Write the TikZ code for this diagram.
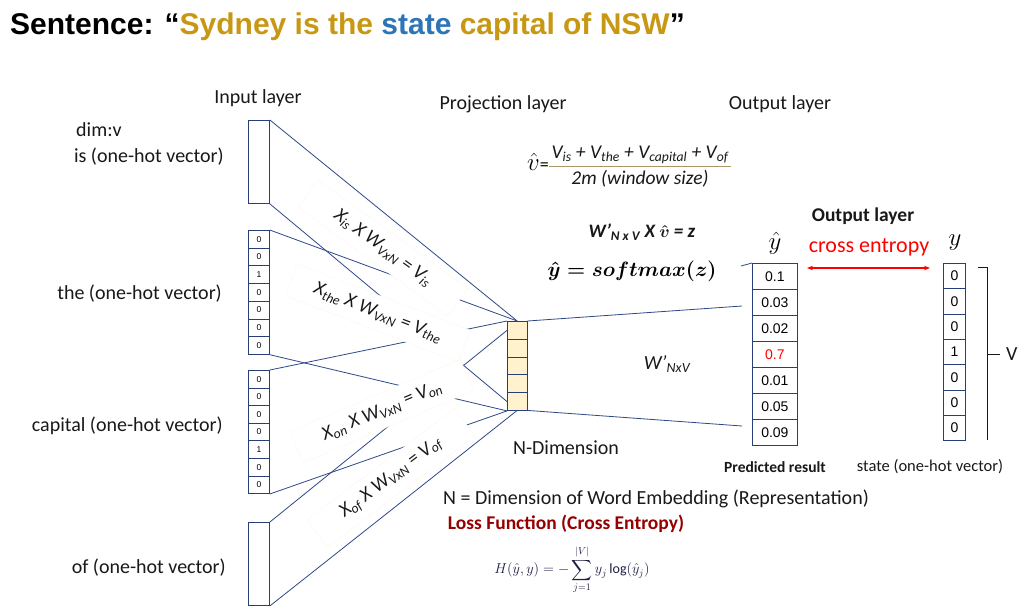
\documentclass[tikz,border=0pt]{standalone}
\usepackage{amsmath}
\usepackage{fontspec}
\setmainfont{Carlito}
\newfontfamily\arialf{Liberation Sans}
\usetikzlibrary{arrows.meta}
\definecolor{goldc}{RGB}{200,152,20}
\definecolor{stateblue}{RGB}{46,117,182}
\definecolor{linkc}{RGB}{47,72,135}
\definecolor{boxc}{RGB}{40,62,120}
\definecolor{projfill}{RGB}{255,242,204}
\definecolor{lblborder}{RGB}{250,236,208}
\definecolor{fracc}{RGB}{170,150,100}
\definecolor{lossred}{RGB}{150,0,0}
\definecolor{txt}{RGB}{25,25,25}
\begin{document}
\begin{tikzpicture}[x=1pt,y=-1pt,
  lnk/.style={draw=linkc, line width=0.8pt},
  bx/.style={draw=boxc, line width=0.9pt, inner sep=0pt},
  lbl/.style={font=\fontsize{20}{23}\selectfont, text=txt, inner sep=0pt},
  cellin/.style={draw=boxc, line width=0.8pt, minimum width=21pt, inner sep=0pt, font=\arialf\fontsize{8.5}{9}\selectfont},
  cellout/.style={draw=boxc, line width=0.8pt, inner sep=0pt, font=\arialf\fontsize{14}{15}\selectfont},
  projcell/.style={draw=boxc, line width=0.9pt, fill=projfill, minimum width=20pt, minimum height=17.8pt, inner sep=0pt},
  eqlbl/.style={fill=white, draw=lblborder, densely dotted, minimum width=185pt, minimum height=34pt, inner sep=2pt, font=\itshape\fontsize{19.5}{22}\selectfont, text=txt}
]
\useasboundingbox (0,0) rectangle (1027,614);
\fill[white] (0,0) rectangle (1027,614);

% title
\node[anchor=west, inner sep=0pt, font=\arialf\bfseries\fontsize{30}{34}\selectfont] (title) at (10,27)
  {Sentence: “\textcolor{goldc}{Sydney is the} \textcolor{stateblue}{state} \textcolor{goldc}{capital of NSW}”};

% headers
\node[lbl] (hin) at (258,98) {Input layer};
\node[lbl] (hproj) at (503,104) {Projection layer};
\node[lbl] (hout) at (780,104) {Output layer};

% left labels
\node[lbl, anchor=west] (dimv) at (76,130) {dim:v};
\node[lbl, anchor=east] (tis) at (224,157) {is (one-hot vector)};
\node[lbl, anchor=east] (tthe) at (222,294) {the (one-hot vector)};
\node[lbl, anchor=east] (tcap) at (223,426) {capital (one-hot vector)};
\node[lbl, anchor=east] (tof) at (226,568) {of (one-hot vector)};

% input boxes (geometry)
\node[bx, minimum width=21pt, minimum height=83pt, anchor=north west] (isbox) at (248,120) {};
\foreach \v [count=\i] in {0,0,1,0,0,0,0}
  \node[cellin, minimum height=17.7pt, anchor=north west] (the\i) at (248,{230+(\i-1)*17.7}) {\v};
\foreach \v [count=\i] in {0,0,0,0,1,0,0}
  \node[cellin, minimum height=17.6pt, anchor=north west] (cap\i) at (248,{370+(\i-1)*17.6}) {\v};
\node[bx, minimum width=21pt, minimum height=83pt, anchor=north west] (ofbox) at (248,522) {};

% projection layer
\node[minimum width=20pt, minimum height=89pt, inner sep=0pt, anchor=north west] (proj) at (507,321) {};
\foreach \i in {1,...,5}
  \node[projcell, anchor=north west] (p\i) at (507,{321+(\i-1)*17.8}) {};

% connectors input -> projection
\draw[lnk] (isbox.north east) -- (proj.north);
\draw[lnk] (isbox.south east) -- (p5.west);
\draw[lnk] (the1.north east) -- (proj.north);
\draw[lnk] (the7.south east) -- (p5.south west);
\draw[lnk] (cap1.north east) -- (p1.north west);
\draw[lnk] (cap7.south east) -- (p5.south west);
\draw[lnk] (ofbox.north east) -- (p1.west);
\draw[lnk] (ofbox.south east) -- (proj.south);

% rotated equation labels
\node[eqlbl, rotate=-36] (l1) at (383,248) {X\textsubscript{is} X W\textsubscript{VxN} = V\textsubscript{is}};
\node[eqlbl, rotate=-21] (l2) at (378,313) {X\textsubscript{the} X W\textsubscript{VxN} = V\textsubscript{the}};
\node[eqlbl, rotate=23] (l3) at (382,411) {X\textsubscript{on} X W\textsubscript{VxN} = V\textsubscript{on}};
\node[eqlbl, rotate=37] (l4) at (391,478) {X\textsubscript{of} X W\textsubscript{VxN} = V\textsubscript{of}};

% redraw boxes on top
\node[bx, minimum width=21pt, minimum height=83pt, anchor=north west] at (248,120) {};
\node[bx, minimum width=21pt, minimum height=83pt, anchor=north west] at (248,522) {};
\foreach \i in {1,...,5}
  \node[projcell, anchor=north west] at (507,{321+(\i-1)*17.8}) {};

% output layer yhat
\foreach \v [count=\i] in {0.1,0.03,0.02,{\textcolor{red}{0.7}},0.01,0.05,0.09}
  \node[cellout, minimum width=45pt, minimum height=26pt, anchor=north west] (yh\i) at (752,{263+(\i-1)*26}) {\v};
% target y
\foreach \v [count=\i] in {0,0,0,1,0,0,0}
  \node[cellout, minimum width=22pt, minimum height=25.3pt, anchor=north west] (yt\i) at (943,{263+(\i-1)*25.3}) {\v};

% projection -> output
\coordinate (ot) at (742,306);
\coordinate (ob) at (742,426);
\draw[lnk] (proj.north east) -- (ot);
\draw[lnk] (proj.south east) -- (ob);
\coordinate (tk1) at (741,266);
\draw[lnk] (tk1) -- (yh1.north west);

% brace
\coordinate (bt) at (978,267);
\coordinate (bb) at (987,440);
\coordinate (bm) at (987,354);
\draw[draw=txt, line width=0.9pt] (bt) -- (987,267) -- (bb);
\draw[draw=txt, line width=0.9pt] (bm) -- ++(13,0) coordinate (bv);
\node[lbl, anchor=west] (vlab) at (1006,354) {V};

% output-side labels
\node[font=\bfseries\fontsize{19.5}{22}\selectfont, text=txt, inner sep=0pt] (hout2) at (863,216) {Output layer};
\node[inner sep=0pt, font=\fontsize{24}{26}\selectfont] (yhatl) at (775,243) {$\hat{y}$};
\node[inner sep=0pt, font=\fontsize{24}{26}\selectfont] (yl) at (955,243) {$y$};
\node[inner sep=0pt, text=red, font=\fontsize{22}{25}\selectfont] (ce) at (869,247) {cross entropy};
\coordinate (ca) at (807,268);
\coordinate (cb) at (930,268);
\draw[red, line width=1.1pt, {Stealth[length=6pt]}-{Stealth[length=6pt]}] (ca) -- (cb);
\node[inner sep=0pt, font=\bfseries\fontsize{15.5}{17}\selectfont, text=txt] (pred) at (775,467) {Predicted result};
\node[inner sep=0pt, font=\fontsize{16.5}{18}\selectfont, text=txt] (stl) at (930,467) {state (one-hot vector)};

% formulas
\node[inner sep=0pt, anchor=east, font=\fontsize{24}{26}\selectfont] (vh) at (549,162) {$\hat{v}$\fontsize{18}{20}\selectfont=};
\node[inner sep=0pt, font=\itshape\fontsize{19.5}{21}\selectfont, text=txt] (num) at (640,155) {V\textsubscript{is} + V\textsubscript{the} + V\textsubscript{capital} + V\textsubscript{of}};
\coordinate (fa) at (549,166);
\coordinate (fb) at (731,166);
\draw[fracc, line width=0.8pt] (fa) -- (fb);
\node[inner sep=0pt, font=\itshape\fontsize{19.5}{21}\selectfont, text=txt] (den) at (640,179) {2m (window size)};
\node[inner sep=0pt, font=\bfseries\itshape\fontsize{19}{21}\selectfont, text=txt] (wz) at (642,232) {W’\textsubscript{N x V} X $\boldsymbol{\hat{v}}$ = z};
\node[inner sep=0pt, font=\fontsize{20}{22}\selectfont] (smax) at (632,271) {$\boldsymbol{\hat{y} = softmax(z)}$};
\node[inner sep=0pt, font=\itshape\fontsize{20}{22}\selectfont, text=txt] (wnv) at (667,364) {W’\textsubscript{NxV}};
\node[lbl] (ndim) at (566,448) {N-Dimension};
\node[lbl] (ndef) at (656,499) {N = Dimension of Word Embedding (Representation)};
\node[inner sep=0pt, font=\bfseries\fontsize{19.5}{22}\selectfont, text=lossred] (loss) at (566,524) {Loss Function (Cross Entropy)};
\node[inner sep=0pt, font=\fontsize{14}{16}\selectfont, text={rgb,255:red,30;green,30;blue,70}] (hf) at (572,570) {$\displaystyle H(\hat{y},y) = -\sum_{j=1}^{|V|} y_j \log(\hat{y}_j)$};
\end{tikzpicture}
\end{document}
